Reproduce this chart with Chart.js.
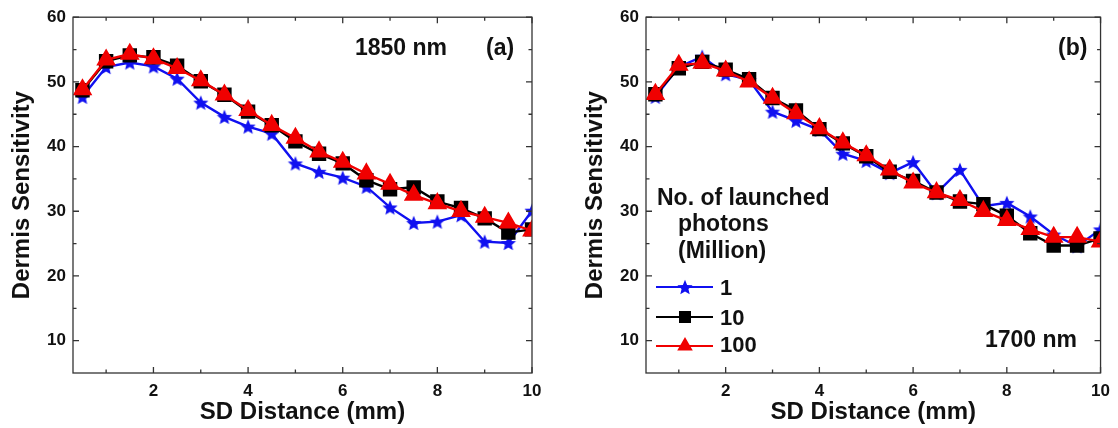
<!DOCTYPE html>
<html>
<head>
<meta charset="utf-8">
<script src="https://cdn.jsdelivr.net/npm/chart.js@4.4.1/dist/chart.umd.min.js"></script>
<style>
html,body{margin:0;padding:0;background:#fff}
#wrap{position:relative;width:1118px;height:428px;overflow:hidden;font-family:"Liberation Sans",Arial,sans-serif;font-weight:bold;color:#111}
.pane{position:absolute;top:0;height:428px}
.note{position:absolute;white-space:nowrap;line-height:1}
.ico{position:absolute;left:655px}
</style>
</head>
<body>
<div id="wrap">
  <div class="pane" style="left:0;width:560px"><canvas id="ca" width="560" height="428" style="width:560px;height:428px"></canvas></div>
  <div class="pane" style="left:560px;width:558px"><canvas id="cb" width="558" height="428" style="width:558px;height:428px"></canvas></div>

  <div class="note" style="left:355px;top:36px;font-size:23px">1850 nm</div>
  <div class="note" style="left:486px;top:36px;font-size:23px">(a)</div>
  <div class="note" style="left:1058px;top:36px;font-size:23px">(b)</div>
  <div class="note" style="left:985px;top:328px;font-size:23px">1700 nm</div>

  <div class="note" style="left:657px;top:186px;font-size:23px">No. of launched</div>
  <div class="note" style="left:678px;top:212px;font-size:23px">photons</div>
  <div class="note" style="left:678px;top:239px;font-size:23px">(Million)</div>
  <canvas class="ico" id="lg1" width="60" height="22" style="top:276px"></canvas>
  <canvas class="ico" id="lg2" width="60" height="22" style="top:306px"></canvas>
  <canvas class="ico" id="lg3" width="60" height="22" style="top:335px"></canvas>
  <div class="note" style="left:720px;top:277px;font-size:22px">1</div>
  <div class="note" style="left:720px;top:307px;font-size:22px">10</div>
  <div class="note" style="left:720px;top:334px;font-size:22px">100</div>
</div>

<script>
// SD distance (mm)
const SD = [0.5,1,1.5,2,2.5,3,3.5,4,4.5,5,5.5,6,6.5,7,7.5,8,8.5,9,9.5,10]

// (a) 1850 nm
const A_1   = [47.7,52.3,53.0,52.4,50.5,46.8,44.6,43.1,42.0,37.4,36.1,35.2,33.8,30.6,28.2,28.4,29.4,25.3,25.1,30.1]
const A_10  = [48.7,53.2,54.1,53.8,52.5,50.1,48.0,45.4,43.3,40.8,38.9,37.4,34.8,33.4,33.7,31.5,30.5,28.9,26.7,27.2]
const A_100 = [48.8,53.4,54.3,53.6,52.1,50.2,48.0,45.6,43.3,41.3,39.2,37.6,35.8,34.2,32.5,31.2,30.0,29.1,28.2,27.0]

// (b) 1700 nm
const B_1   = [47.7,52.3,53.9,51.2,50.3,45.4,44.0,42.6,38.9,37.8,35.9,37.6,32.8,36.4,30.8,31.3,29.2,26.4,24.6,27.2]
const B_10  = [48.1,52.1,53.1,51.9,50.4,47.5,45.6,42.7,40.5,38.5,36.1,34.7,32.9,31.5,31.1,29.3,26.6,24.7,24.7,25.8]
const B_100 = [48.1,52.6,52.9,51.7,50.0,47.5,45.1,42.8,40.6,38.6,36.4,34.4,32.9,31.7,30.0,28.6,27.2,26.0,26.0,25.3]

const X_TICKS = [2,4,6,8,10], X_MINOR = [1,3,5,7,9]
const Y_TICKS = [10,20,30,40,50,60], Y_MINOR = [15,25,35,45,55]

const BLUE='#1010f0', BLACK='#000000', RED='#f00000', TXT='#111'
const FONT='"Liberation Sans", Arial, sans-serif'

function starPath(g,cx,cy,r){
  g.beginPath()
  for(let i=0;i<10;i++){
    const rr=i%2?r*0.45:r, a=-Math.PI/2+i*Math.PI/5
    g.lineTo(cx+rr*Math.cos(a),cy+rr*Math.sin(a))
  }
  g.closePath()
}
function starImg(color,r){
  const c=document.createElement('canvas'), s=Math.ceil(r*2+2)
  c.width=c.height=s
  const g=c.getContext('2d')
  g.fillStyle=color; starPath(g,s/2,s/2+0.8,r); g.fill()
  return c
}
const STAR=starImg(BLUE,8)

// frame + inward ticks on all four sides
const framePlugin={
  id:'frame',
  afterDraw(chart){
    const {ctx,chartArea:a,scales:{x,y}}=chart
    ctx.save()
    ctx.strokeStyle='#333'; ctx.lineWidth=1.3
    ctx.strokeRect(a.left,a.top,a.right-a.left,a.bottom-a.top)
    ctx.beginPath()
    const tx=(v,l)=>{const p=x.getPixelForValue(v);ctx.moveTo(p,a.bottom);ctx.lineTo(p,a.bottom-l);ctx.moveTo(p,a.top);ctx.lineTo(p,a.top+l)}
    const ty=(v,l)=>{const p=y.getPixelForValue(v);ctx.moveTo(a.left,p);ctx.lineTo(a.left+l,p);ctx.moveTo(a.right,p);ctx.lineTo(a.right-l,p)}
    X_TICKS.forEach(v=>tx(v,6)); X_MINOR.forEach(v=>tx(v,3.5))
    Y_TICKS.forEach(v=>ty(v,6)); Y_MINOR.forEach(v=>ty(v,3.5))
    ctx.stroke()
    ctx.restore()
  }
}

function pts(ys){ return SD.map((x,i)=>({x,y:ys[i]})) }

function makeChart(id,s1,s10,s100,axisW,titlePad,padRight){
  new Chart(document.getElementById(id),{
    type:'line',
    data:{datasets:[
      {label:'1',data:pts(s1),borderColor:BLUE,backgroundColor:BLUE,borderWidth:2.4,pointStyle:STAR,pointRadius:8,order:3},
      {label:'10',data:pts(s10),borderColor:BLACK,backgroundColor:BLACK,borderWidth:2.4,pointStyle:'rect',pointRadius:8.5,order:2},
      {label:'100',data:pts(s100),borderColor:RED,backgroundColor:RED,borderWidth:2.4,pointStyle:'triangle',pointRadius:9,order:1},
    ]},
    options:{
      responsive:false, animation:false, events:[],
      layout:{padding:{top:17,right:padRight,left:0,bottom:0}},
      plugins:{legend:{display:false},tooltip:{enabled:false}},
      elements:{line:{tension:0},point:{borderWidth:0}},
      scales:{
        x:{type:'linear',min:0.3,max:10,
          afterBuildTicks:s=>{s.ticks=X_TICKS.map(v=>({value:v}))},
          afterFit:s=>{s.height=55},
          grid:{display:false,drawTicks:false},border:{display:false},
          ticks:{color:TXT,padding:8,font:{family:FONT,size:17,weight:'bold'}},
          title:{display:true,text:'SD Distance (mm)',color:TXT,padding:{top:0,bottom:1},font:{family:FONT,size:24,weight:'bold'}}},
        y:{type:'linear',min:5,max:60,
          afterBuildTicks:s=>{s.ticks=Y_TICKS.map(v=>({value:v}))},
          afterFit:s=>{s.width=axisW},
          grid:{display:false,drawTicks:false},border:{display:false},
          ticks:{color:TXT,padding:7,font:{family:FONT,size:17,weight:'bold'}},
          title:{display:true,text:'Dermis Sensitivity',color:TXT,padding:{top:titlePad,bottom:0},font:{family:FONT,size:24,weight:'bold'}}}
      }
    },
    plugins:[framePlugin]
  })
}

makeChart('ca',A_1,A_10,A_100,73,8,28)
makeChart('cb',B_1,B_10,B_100,86,21,14)

// legend icons
function icon(id,color,kind){
  const g=document.getElementById(id).getContext('2d')
  g.strokeStyle=color; g.fillStyle=color; g.lineWidth=1.8
  g.beginPath(); g.moveTo(1,11); g.lineTo(58,11); g.stroke()
  const cx=30, cy=11
  if(kind==='star'){ starPath(g,cx,cy+0.8,8); g.fill() }
  else if(kind==='rect'){ g.fillRect(cx-6,cy-6,12,12) }
  else { const r=9; g.beginPath(); for(let i=0;i<3;i++){const a=i*2*Math.PI/3; g.lineTo(cx+Math.sin(a)*r,cy-Math.cos(a)*r)} g.closePath(); g.fill() }
}
icon('lg1',BLUE,'star')
icon('lg2',BLACK,'rect')
icon('lg3',RED,'tri')
</script>
</body>
</html>
